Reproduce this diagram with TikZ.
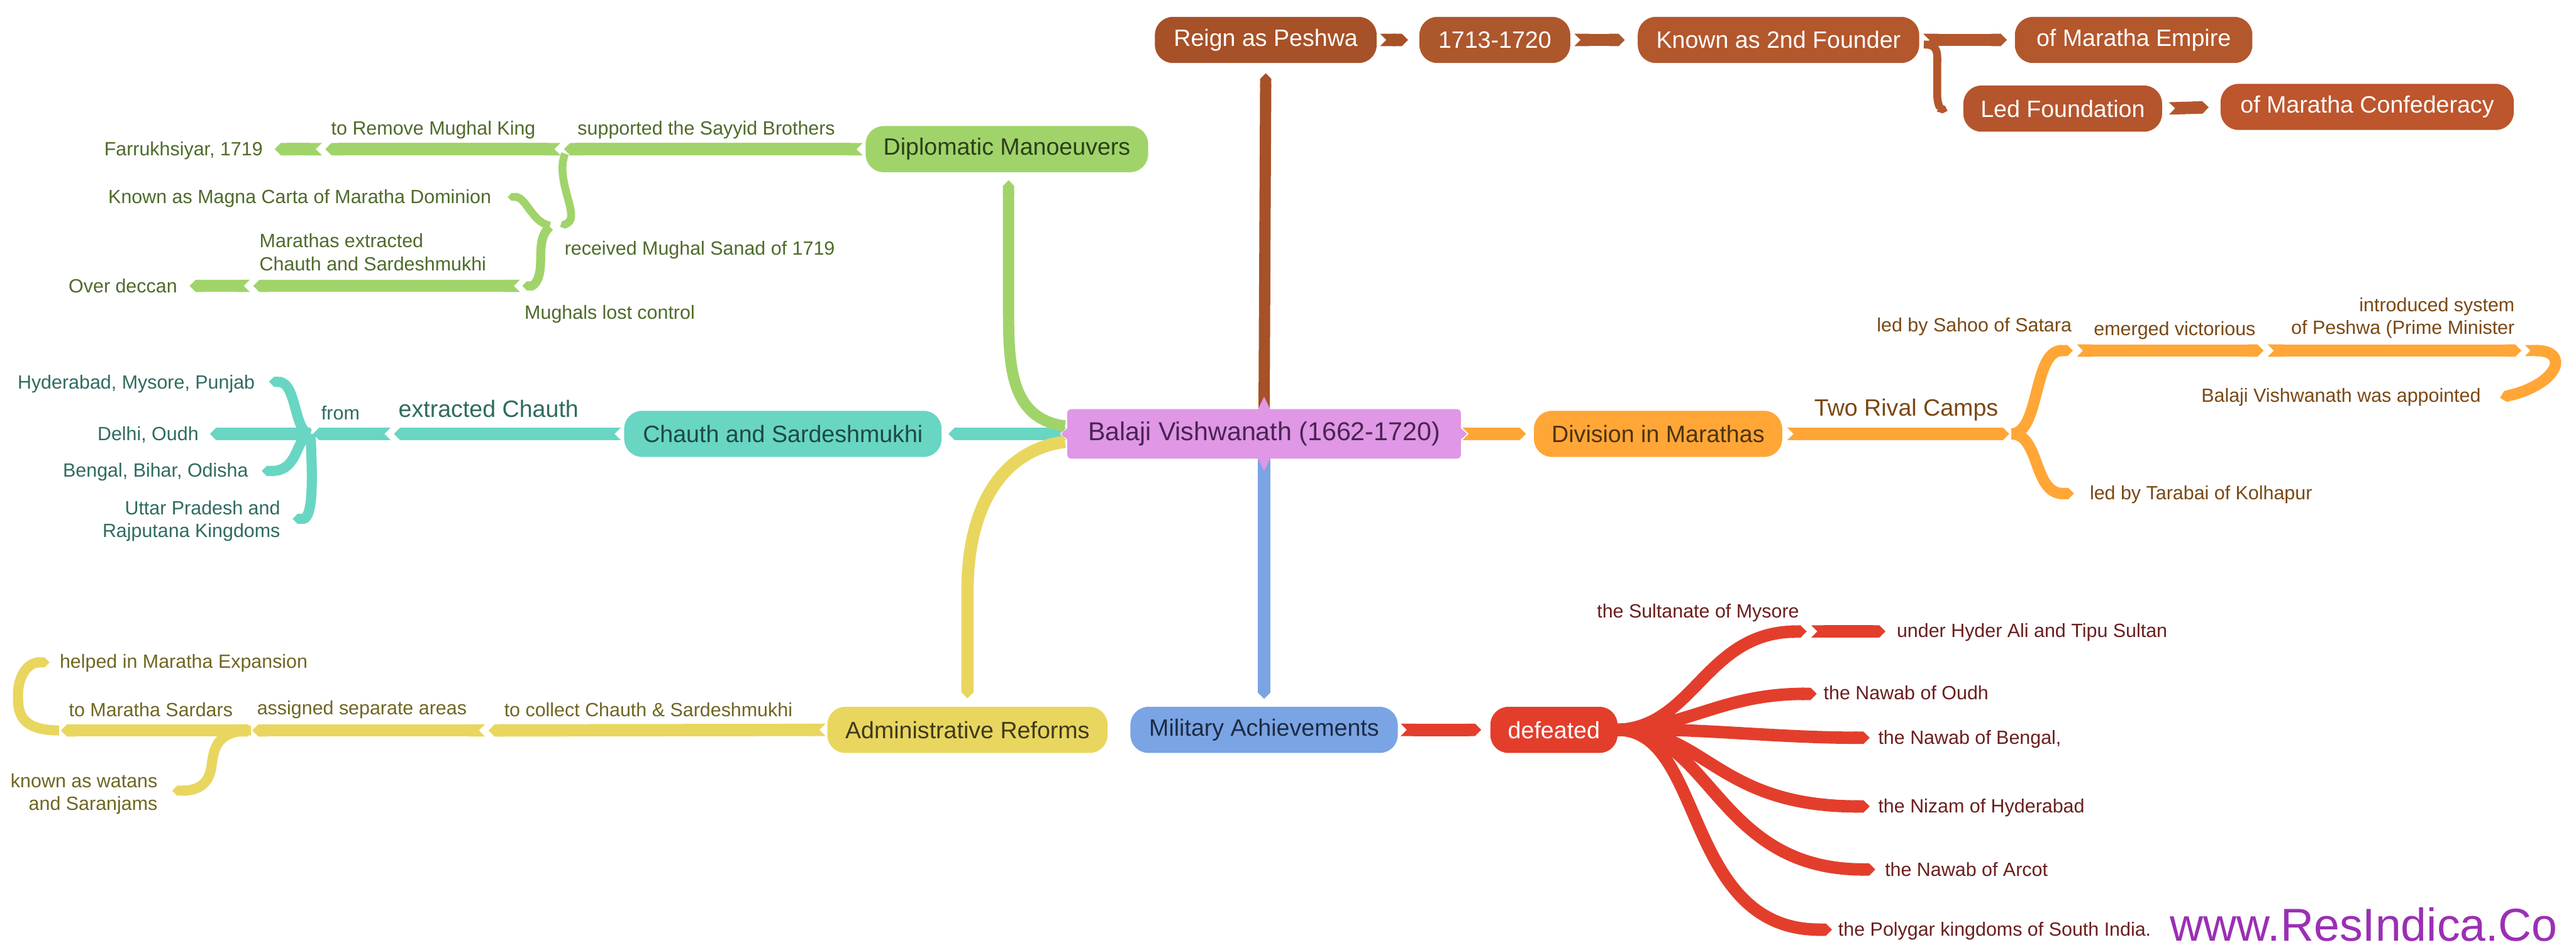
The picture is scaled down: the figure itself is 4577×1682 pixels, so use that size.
\documentclass[tikz,border=0pt]{standalone}
\usepackage{fontspec}
\setmainfont{Liberation Sans}
\usetikzlibrary{shapes.misc,arrows.meta,calc}
\pgfdeclarelayer{bg}
\pgfsetlayers{bg,main}

\definecolor{brA}{HTML}{A65128}
\definecolor{brB}{HTML}{AD572D}
\definecolor{brC}{HTML}{B3572D}
\definecolor{brD}{HTML}{B5552D}
\definecolor{brE}{HTML}{BD552D}
\definecolor{pinkC}{HTML}{DF97E6}
\definecolor{pinkT}{HTML}{4B2452}
\definecolor{grn}{HTML}{A0D46A}
\definecolor{grnT}{HTML}{4E6B2A}
\definecolor{grnD}{HTML}{2B3F1A}
\definecolor{tl}{HTML}{68D6C3}
\definecolor{tlT}{HTML}{2F6B60}
\definecolor{tlD}{HTML}{1F4944}
\definecolor{yl}{HTML}{E9D65F}
\definecolor{ylT}{HTML}{6F6622}
\definecolor{ylD}{HTML}{3F3A1E}
\definecolor{orng}{HTML}{FFA637}
\definecolor{orT}{HTML}{7A4814}
\definecolor{orD}{HTML}{4F3210}
\definecolor{blu}{HTML}{7AA4E4}
\definecolor{bluD}{HTML}{1C2B44}
\definecolor{rd}{HTML}{E33E2C}
\definecolor{rdT}{HTML}{6B1E1E}
\definecolor{wm}{HTML}{9B2FB4}

\tikzset{
  topic/.style={rectangle, rounded corners=32pt, inner sep=0pt,
    minimum height=82pt, font=\fontsize{42}{50}\selectfont},
  rib/.style={line width=22pt, {Triangle Cap[reversed]}-{Triangle Cap}},
  curl/.style={line width=#1, -{Triangle Cap}},
  lab/.style={inner sep=0pt, yshift=-9pt, font=\fontsize{34}{41}\selectfont},
  lab2/.style={inner sep=0pt, yshift=-4pt, font=\fontsize{34}{41}\selectfont},
  biglab/.style={inner sep=0pt, yshift=-4pt, font=\fontsize{42}{50}\selectfont},
}

\begin{document}
\begin{tikzpicture}[x=1pt,y=-1pt]
\useasboundingbox (0,0) rectangle (4577,1682);

% ---------- topics ----------
\node[rectangle, rounded corners=6pt, fill=pinkC, text=pinkT, minimum width=699pt,
      minimum height=88pt, inner sep=0pt, font=\fontsize{46}{54}\selectfont]
      (central) at (2246,771) {Balaji Vishwanath (1662-1720)};

\node[topic, fill=brA, text=white, minimum width=394pt] (reign) at (2249,71) {Reign as Peshwa};
\node[topic, fill=brB, text=white, minimum width=268pt] (yr) at (2656,71) {1713-1720};
\node[topic, fill=brC, text=white, minimum width=500pt] (known) at (3160,71) {Known as 2nd Founder};
\node[topic, fill=brC, text=white, minimum width=422pt] (empire) at (3791,71) {of Maratha Empire};
\node[topic, fill=brD, text=white, minimum width=353pt] (led) at (3665,193) {Led Foundation};
\node[topic, fill=brE, text=white, minimum width=521pt] (conf) at (4206,190) {of Maratha Confederacy};

\node[topic, fill=grn, text=grnD, minimum width=502pt] (dipl) at (1789,265) {Diplomatic Manoeuvers};
\node[topic, fill=tl, text=tlD, minimum width=564pt] (chauth) at (1391,771) {Chauth and Sardeshmukhi};
\node[topic, fill=orng, text=orD, minimum width=441pt] (division) at (2946,771) {Division in Marathas};
\node[topic, fill=yl, text=ylD, minimum width=498pt] (admin) at (1719,1297) {Administrative Reforms};
\node[topic, fill=blu, text=bluD, minimum width=475pt] (military) at (2246,1297) {Military Achievements};
\node[topic, fill=rd, text=white, minimum width=226pt] (defeated) at (2761,1297) {defeated};

% small points of the central topic
\fill[pinkC] ($(central.north)+(-11,1)$) -- ($(central.north)+(0,-22)$) -- ($(central.north)+(11,1)$) -- cycle;
\fill[pinkC] ($(central.south)+(-11,-1)$) -- ($(central.south)+(0,22)$) -- ($(central.south)+(11,-1)$) -- cycle;
\fill[pinkC] ($(central.west)+(1,-11)$) -- ($(central.west)+(-11,0)$) -- ($(central.west)+(1,11)$) -- cycle;
\fill[pinkC] ($(central.east)+(-1,-11)$) -- ($(central.east)+(11,0)$) -- ($(central.east)+(-1,11)$) -- cycle;

% ---------- free ends of connectors ----------
\coordinate (oj) at (3570,771);
\coordinate (oa) at (3683,623);
\coordinate (ob) at (4022,623);
\coordinate (oc) at (4480,623);
\coordinate (od) at (4442,707);
\coordinate (oe) at (3685,877);

\coordinate (ta) at (700,771);
\coordinate (tj) at (556,771);
\coordinate (tdel) at (373,771);
\coordinate (thyd) at (478,678);
\coordinate (tben) at (465,837);
\coordinate (tutt) at (520,922);

\coordinate (g1) at (1002,265);
\coordinate (g2) at (578,265);
\coordinate (g3) at (488,265);
\coordinate (g4) at (995,403);
\coordinate (g5) at (902,350);
\coordinate (g6) at (928,508);
\coordinate (g7) at (450,508);
\coordinate (g8) at (337,508);

\coordinate (y1) at (868,1298);
\coordinate (y2) at (448,1298);
\coordinate (y3) at (108,1298);
\coordinate (y4) at (88,1177);
\coordinate (y5) at (306,1405);

\coordinate (r1) at (3210,1122);
\coordinate (r1b) at (3350,1122);
\coordinate (r2) at (3228,1233);
\coordinate (r3) at (3322,1311);
\coordinate (r4) at (3322,1433);
\coordinate (r5) at (3332,1545);
\coordinate (r6) at (3255,1652);

% ---------- connectors ----------
\begin{pgfonlayer}{bg}
\fill[white] (0,0) rectangle (4577,1682);

% brown
\draw[brA, line width=20pt, {Triangle Cap[reversed]}-{Triangle Cap}, shorten >=18pt] (central.north) -- (reign.south);
\draw[rib, brA, shorten <=6pt, shorten >=20pt] (reign.east) -- (yr.west);
\draw[rib, brB, shorten <=7pt, shorten >=23pt] (yr.east) -- (known.west);
\draw[rib, brC, shorten <=7pt, shorten >=14pt] (known.east) -- (empire.west);
\draw[brC, curl=14pt] ($(known.east)+(8,8)$) .. controls +(28,0) and +(0,-30) .. (3442,125)
      -- (3442,168) .. controls +(0,18) and +(-12,-4) .. ($(led.west)+(-28,4)$);
\draw[rib, brD, shorten <=12pt, shorten >=21pt] (led.east) -- (conf.west);

% orange
\draw[rib, orng, shorten <=3pt, shorten >=14pt] (central.east) -- (division.west);
\draw[rib, orng, shorten <=9pt] (division.east) -- (oj);
\draw[orng, curl=20pt] ($(oj)+(4,0)$) .. controls (3625,771) and (3612,623) .. (oa);
\draw[rib, orng] ($(oa)+(7,0)$) -- (ob);
\draw[rib, orng] ($(ob)+(7,0)$) -- (oc);
\draw[orng, line width=20pt, {Triangle Cap[reversed]}-{Triangle Cap}] ($(oc)+(6,0)$) .. controls (4565,623) and (4548,680) .. (od);
\draw[orng, curl=20pt] ($(oj)+(4,0)$) .. controls (3625,771) and (3612,877) .. (oe);

% teal
\draw[rib, tl, shorten <=2pt, shorten >=12pt] (central.west) -- (chauth.east);
\draw[rib, tl, shorten <=6pt] (chauth.west) -- (ta);
\draw[rib, tl] ($(ta)+(-6,0)$) -- (tj);
\draw[rib, tl] ($(tj)+(-4,0)$) -- (tdel);
\draw[tl, curl=18pt] ($(tj)+(-4,0)$) .. controls (522,771) and (528,680) .. (thyd);
\draw[tl, curl=18pt] ($(tj)+(-4,0)$) .. controls (525,775) and (532,837) .. (tben);
\draw[tl, curl=18pt] ($(tj)+(-4,0)$) .. controls (552,800) and (562,922) .. (tutt);

% green
\draw[grn, curl=20pt] ($(central.west)+(-4,-14)$) .. controls (1800,745) and (1792,660) .. (1792,560)
      -- ($(dipl.south)+(3,14)$);
\draw[rib, grn, shorten <=5pt] (dipl.west) -- (g1);
\draw[rib, grn] ($(g1)+(-6,0)$) -- (g2);
\draw[rib, grn] ($(g2)+(-6,0)$) -- (g3);
\draw[grn, curl=14pt] ($(g1)+(2,8)$) .. controls (985,320) and (1032,385) .. (g4);
\draw[grn, curl=14pt] ($(g4)+(-18,-2)$) .. controls (945,395) and (935,350) .. (g5);
\draw[grn, curl=16pt] ($(g4)+(-18,0)$) .. controls (957,420) and (962,450) .. (960,475)
      .. controls (958,500) and (948,508) .. (g6);
\draw[rib, grn] ($(g6)+(-4,0)$) -- (g7);
\draw[rib, grn] ($(g7)+(-6,0)$) -- (g8);

% yellow
\draw[yl, curl=22pt] ($(central.west)+(-4,14)$) .. controls (1780,800) and (1719,900) .. (1719,1050)
      -- ($(admin.north)+(0,-15)$);
\draw[rib, yl, shorten <=3pt] (admin.west) -- (y1);
\draw[rib, yl] ($(y1)+(-6,0)$) -- (y2);
\draw[rib, yl] ($(y2)+(-6,0)$) -- (y3);
\draw[yl, curl=18pt] ($(y3)+(-3,0)$) .. controls (32,1298) and (32,1262) .. (32,1235)
      .. controls (32,1200) and (50,1177) .. (y4);
\draw[yl, curl=18pt] ($(y2)+(-2,0)$) .. controls (385,1298) and (380,1330) .. (376,1360)
      .. controls (372,1395) and (350,1405) .. (y5);

% blue
\draw[blu, line width=22pt, {Triangle Cap[reversed]}-{Triangle Cap}] (central.south) -- ($(military.north)+(0,-14)$);

% red
\draw[rib, rd, shorten <=5pt, shorten >=16pt] (military.east) -- (defeated.west);
\draw[rd, curl=22pt] (defeated.east) .. controls (3010,1292) and (3030,1125) .. (r1);
\draw[rib, rd] ($(r1)+(8,0)$) -- (r1b);
\draw[rd, curl=22pt] (defeated.east) .. controls (3000,1292) and (3060,1233) .. (r2);
\draw[rd, curl=22pt] (defeated.east) .. controls (3000,1292) and (3150,1311) .. (r3);
\draw[rd, curl=22pt] (defeated.east) .. controls (3030,1296) and (3050,1433) .. (r4);
\draw[rd, curl=22pt] (defeated.east) .. controls (3040,1296) and (3050,1545) .. (r5);
\draw[rd, curl=22pt] (defeated.east) .. controls (3030,1296) and (2990,1652) .. (r6);
\end{pgfonlayer}

% ---------- labels ----------
\begin{scope}[text=grnT]
\node[lab] (lg1) at (1255,222) {supported the Sayyid Brothers};
\node[lab] (lg2) at (770,222) {to Remove Mughal King};
\node[lab, anchor=mid east] (lg3) at (467,265) {Farrukhsiyar, 1719};
\node[lab, anchor=mid west] (lg4) at (1003,441) {received Mughal Sanad of 1719};
\node[lab, anchor=mid east] (lg5) at (873,350) {Known as Magna Carta of Maratha Dominion};
\node[lab2, anchor=west, align=left] (lg6) at (461,444) {Marathas extracted\\Chauth and Sardeshmukhi};
\node[lab, anchor=mid west] (lg7) at (932,555) {Mughals lost control};
\node[lab, anchor=mid east] (lg8) at (315,508) {Over deccan};
\end{scope}

\begin{scope}[text=tlT]
\node[biglab] (lt1) at (868,722) {extracted Chauth};
\node[lab] (lt2) at (605,725) {from};
\node[lab, anchor=mid east] (lt3) at (453,680) {Hyderabad, Mysore, Punjab};
\node[lab, anchor=mid east] (lt4) at (353,771) {Delhi, Oudh};
\node[lab, anchor=mid east] (lt5) at (441,836) {Bengal, Bihar, Odisha};
\node[lab2, anchor=east, align=right] (lt6) at (498,922) {Uttar Pradesh and\\Rajputana Kingdoms};
\end{scope}

\begin{scope}[text=ylT]
\node[lab] (ly1) at (1152,1252) {to collect Chauth \& Sardeshmukhi};
\node[lab] (ly2) at (643,1252) {assigned separate areas};
\node[lab] (ly3) at (268,1252) {to Maratha Sardars};
\node[lab, anchor=mid west] (ly4) at (106,1176) {helped in Maratha Expansion};
\node[lab2, anchor=east, align=right] (ly5) at (280,1407) {known as watans\\and Saranjams};
\end{scope}

\begin{scope}[text=orT]
\node[biglab] (lo1) at (3387,724) {Two Rival Camps};
\node[lab, anchor=mid east] (lo2) at (3681,578) {led by Sahoo of Satara};
\node[lab] (lo3) at (3864,578) {emerged victorious};
\node[lab2, anchor=east, align=right] (lo4) at (4468,561) {introduced system\\of Peshwa (Prime Minister};
\node[lab, anchor=mid east] (lo5) at (4408,703) {Balaji Vishwanath was appointed};
\node[lab, anchor=mid west] (lo6) at (3713,876) {led by Tarabai of Kolhapur};
\end{scope}

\begin{scope}[text=rdT]
\node[lab] (lr1) at (3017,1080) {the Sultanate of Mysore};
\node[lab, anchor=mid west] (lr2) at (3370,1121) {under Hyder Ali and Tipu Sultan};
\node[lab, anchor=mid west] (lr3) at (3240,1232) {the Nawab of Oudh};
\node[lab, anchor=mid west] (lr4) at (3337,1311) {the Nawab of Bengal,};
\node[lab, anchor=mid west] (lr5) at (3337,1433) {the Nizam of Hyderabad};
\node[lab, anchor=mid west] (lr6) at (3349,1545) {the Nawab of Arcot};
\node[lab, anchor=mid west] (lr7) at (3266,1652) {the Polygar kingdoms of South India.};
\end{scope}

\node[inner sep=0pt, anchor=base west, text=wm, font=\fontsize{82}{88}\selectfont] (mark) at (3856,1672) {www.ResIndica.Co};
\end{tikzpicture}
\end{document}
